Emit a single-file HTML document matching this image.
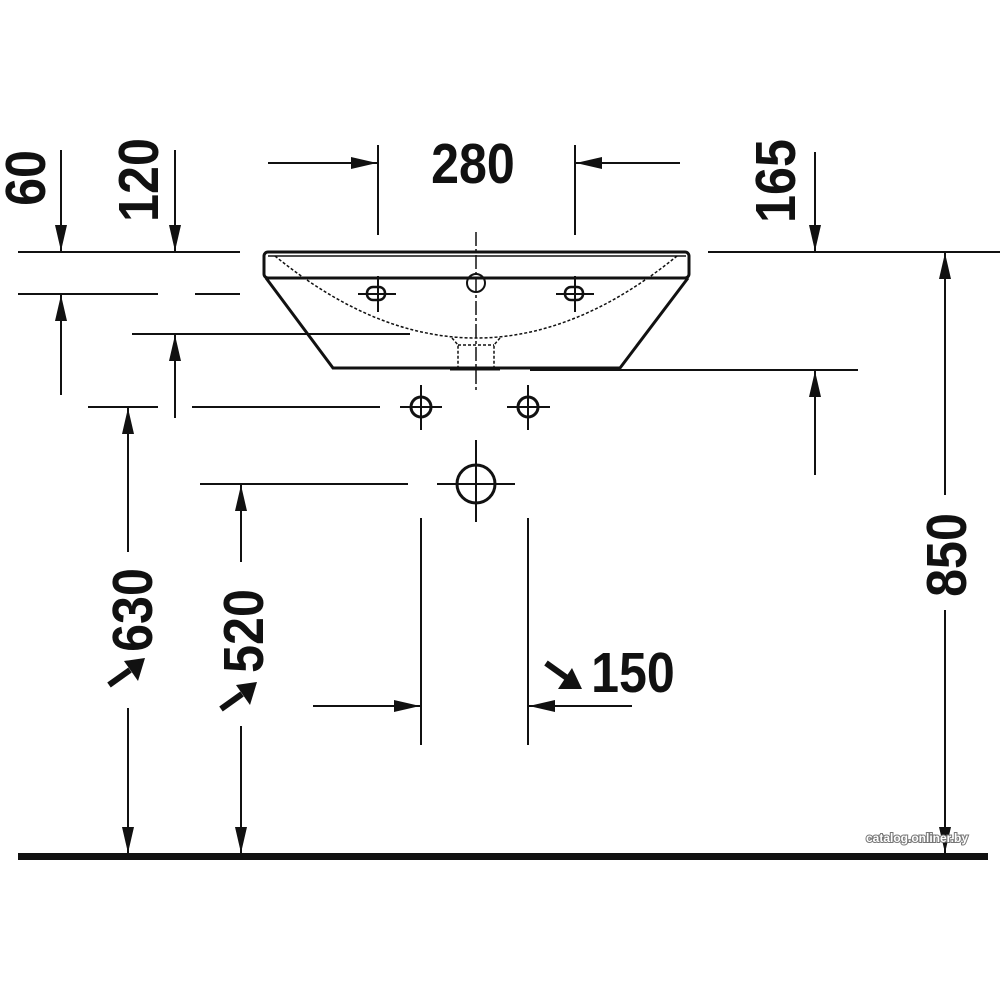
<!DOCTYPE html>
<html><head><style>
html,body{margin:0;padding:0;background:#fff;width:1000px;height:1000px;overflow:hidden}
svg text.d{font-family:"Liberation Sans",sans-serif;font-weight:bold;font-size:57px;fill:#111}
</style></head><body>
<svg width="1000" height="1000" viewBox="0 0 1000 1000" xmlns="http://www.w3.org/2000/svg">
<defs>
<marker id="a" viewBox="0 0 26 12" refX="26" refY="6" markerWidth="26" markerHeight="12" markerUnits="userSpaceOnUse" orient="auto"><path d="M0,0 L26,6 L0,12 z" fill="#111"/></marker>
</defs>
<g stroke="#111" stroke-width="2" fill="none">
<line x1="18" y1="252" x2="240" y2="252"/>
<line x1="708" y1="252" x2="1000" y2="252"/>
<line x1="18" y1="294" x2="158" y2="294"/>
<line x1="195" y1="294" x2="240" y2="294"/>
<line x1="132" y1="334" x2="410" y2="334"/>
<line x1="530" y1="370" x2="858" y2="370"/>
<line x1="88" y1="407" x2="158" y2="407"/>
<line x1="192" y1="407" x2="380" y2="407"/>
<line x1="200" y1="484" x2="408" y2="484"/>
<line x1="378" y1="145" x2="378" y2="235"/>
<line x1="575" y1="145" x2="575" y2="235"/>
<line x1="268" y1="163" x2="377" y2="163" marker-end="url(#a)"/>
<line x1="680" y1="163" x2="576" y2="163" marker-end="url(#a)"/>
<line x1="61" y1="150" x2="61" y2="251" marker-end="url(#a)"/>
<line x1="61" y1="395" x2="61" y2="295" marker-end="url(#a)"/>
<line x1="175" y1="150" x2="175" y2="251" marker-end="url(#a)"/>
<line x1="175" y1="418" x2="175" y2="335" marker-end="url(#a)"/>
<line x1="815" y1="152" x2="815" y2="251" marker-end="url(#a)"/>
<line x1="815" y1="475" x2="815" y2="371" marker-end="url(#a)"/>
<line x1="945" y1="495" x2="945" y2="253" marker-end="url(#a)"/>
<line x1="945" y1="610" x2="945" y2="853" marker-end="url(#a)"/>
<line x1="128" y1="552" x2="128" y2="408" marker-end="url(#a)"/>
<line x1="128" y1="708" x2="128" y2="853" marker-end="url(#a)"/>
<line x1="241" y1="562" x2="241" y2="485" marker-end="url(#a)"/>
<line x1="241" y1="726" x2="241" y2="853" marker-end="url(#a)"/>
<line x1="421" y1="518" x2="421" y2="745"/>
<line x1="528" y1="518" x2="528" y2="745"/>
<line x1="313" y1="706" x2="420" y2="706" marker-end="url(#a)"/>
<line x1="632" y1="706" x2="529" y2="706" marker-end="url(#a)"/>
<rect x="264" y="252" width="425" height="26" rx="4" stroke-width="3"/>
<line x1="268" y1="256" x2="686" y2="256" stroke-width="1.5"/>
<path d="M266,278 L333,368 L620,368 L688,278" stroke-width="3"/>
<path d="M275,256 Q476,420 677,256" stroke-dasharray="3,2" stroke-width="1.5"/>
<path d="M452,338 L458,345 L458,368 M500,338 L494,345 L494,368 M458,345 L494,345" stroke-dasharray="3,2" stroke-width="1.5"/>
<line x1="450" y1="369" x2="500" y2="369" stroke-width="3"/>
<line x1="476" y1="232" x2="476" y2="392" stroke-dasharray="14,3,3,3" stroke-width="1.5"/>
<circle cx="476" cy="283" r="9"/>
<rect x="367" y="287" width="18" height="13" rx="6" stroke-width="2.5"/>
<line x1="358" y1="294" x2="396" y2="294"/><line x1="378" y1="276" x2="378" y2="312"/>
<rect x="565" y="287" width="18" height="13" rx="6" stroke-width="2.5"/>
<line x1="556" y1="294" x2="594" y2="294"/><line x1="575" y1="276" x2="575" y2="312"/>
<circle cx="421" cy="407" r="10" stroke-width="3"/>
<line x1="400" y1="407" x2="442" y2="407"/><line x1="421" y1="385" x2="421" y2="430"/>
<circle cx="528" cy="407" r="10" stroke-width="3"/>
<line x1="507" y1="407" x2="550" y2="407"/><line x1="528" y1="385" x2="528" y2="430"/>
<circle cx="476" cy="484" r="19" stroke-width="3"/>
<line x1="437" y1="484" x2="515" y2="484"/><line x1="476" y1="440" x2="476" y2="522"/>
</g>
<rect x="18" y="853" width="970" height="7" fill="#111"/>
<g stroke="#111" stroke-width="6" stroke-linecap="butt">
<line x1="109" y1="685" x2="130" y2="670"/>
<line x1="221" y1="709" x2="242" y2="694"/>
<line x1="546" y1="663" x2="567" y2="678"/>
</g>
<g fill="#111">
<path d="M145,658 L138,681 L124,661 z"/>
<path d="M257,682 L250,705 L236,685 z"/>
<path d="M582,689 L558,689 L572,668 z"/>
</g>
<text class="d" x="473" y="183" text-anchor="middle" transform="translate(473,0) scale(0.88,1) translate(-473,0)">280</text>
<text class="d" text-anchor="middle" transform="translate(45,178) rotate(-90) scale(0.88,1)">60</text>
<text class="d" text-anchor="middle" transform="translate(158,180) rotate(-90) scale(0.88,1)">120</text>
<text class="d" text-anchor="middle" transform="translate(795,181) rotate(-90) scale(0.88,1)">165</text>
<text class="d" text-anchor="middle" transform="translate(966,555) rotate(-90) scale(0.88,1)">850</text>
<text class="d" text-anchor="middle" transform="translate(152,610) rotate(-90) scale(0.88,1)">630</text>
<text class="d" text-anchor="middle" transform="translate(263,631) rotate(-90) scale(0.88,1)">520</text>
<text class="d" x="633" y="692" text-anchor="middle" transform="translate(633,0) scale(0.88,1) translate(-633,0)">150</text>
<text x="917" y="842" text-anchor="middle" font-family="Liberation Sans,sans-serif" font-weight="bold" font-size="12" fill="#fff" stroke="#777" stroke-width="2" paint-order="stroke">catalog.onliner.by</text>
</svg>
</body></html>
